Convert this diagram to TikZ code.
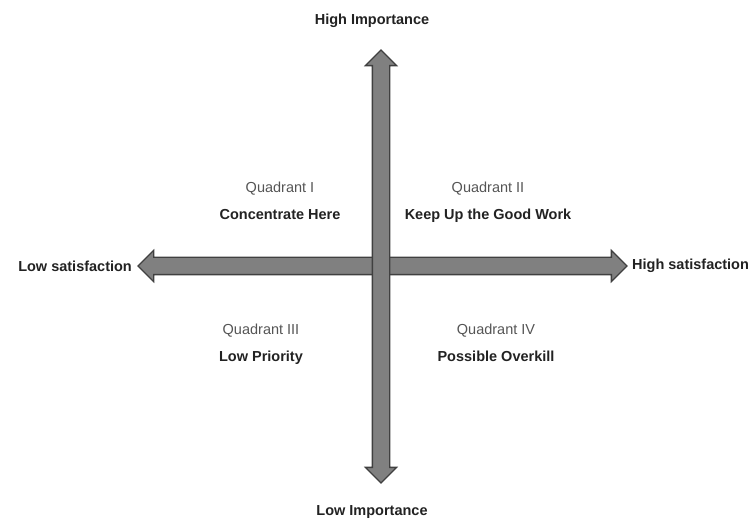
\documentclass[tikz,border=0pt]{standalone}
\usepackage{fontspec}
\setmainfont{Liberation Sans}
\usepackage{tikz}
\usetikzlibrary{positioning,shapes.arrows}
\definecolor{QAxisFill}{HTML}{808080}
\definecolor{QAxisEdge}{HTML}{404040}
\definecolor{QGray}{HTML}{555555}
\definecolor{QDark}{HTML}{222222}

\begin{document}
\begin{tikzpicture}[x=1pt,y=-1pt,node distance=5pt,
  axisarrow/.style={double arrow,draw=QAxisEdge,fill=QAxisFill,line width=1.3pt,
              inner xsep=0pt,inner ysep=8pt,double arrow head extend=7pt},
  axlabel/.style={font=\fontsize{14.5}{17}\selectfont\bfseries,text=QDark,inner sep=0pt},
  quad/.style={align=center,anchor=north,font=\fontsize{14.5}{27}\selectfont,text=QGray,inner sep=0pt}]
  \useasboundingbox (0,0) rectangle (755,521);
  \node[axisarrow,minimum height=489pt] (haxis) at (382.5,266) {};
  \node[axisarrow,minimum height=433pt,rotate=90] (vaxis) at (381,266.5) {};
  \node[axlabel,above=21pt of vaxis.east,xshift=-9pt] (himp) {High Importance};
  \node[axlabel,below=21pt of vaxis.west,xshift=-9pt] (limp) {Low Importance};
  \node[axlabel,left=5pt of haxis.west] (lsat) {Low satisfaction};
  \node[axlabel,right=4pt of haxis.east] (hsat) {High satisfaction};
  \node[quad] (q1) at (280,181.6) {Quadrant I\\\textcolor{QDark}{\bfseries Concentrate Here}};
  \node[quad] (q2) at (488,181.6) {Quadrant II\\\textcolor{QDark}{\bfseries Keep Up the Good Work}};
  \node[quad] (q3) at (261,323.6) {Quadrant III\\\textcolor{QDark}{\bfseries Low Priority}};
  \node[quad] (q4) at (496,323.6) {Quadrant IV\\\textcolor{QDark}{\bfseries Possible Overkill}};
\end{tikzpicture}
\end{document}
